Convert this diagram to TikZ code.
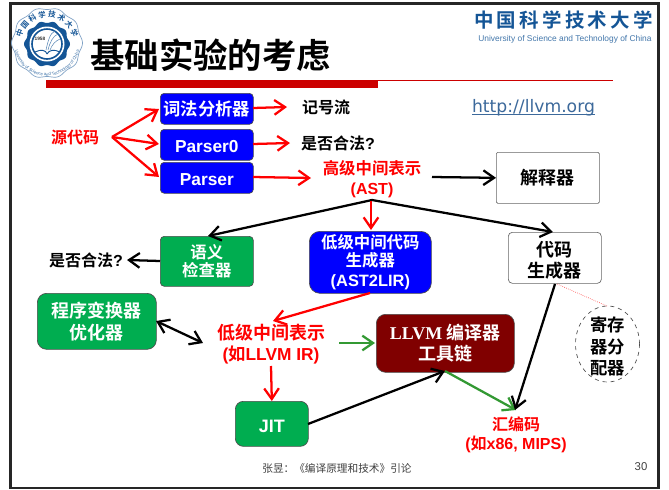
\documentclass[tikz,border=0pt]{standalone}
\usepackage{fontspec}
\setmainfont{Liberation Sans}[BoldFont={Liberation Sans Bold}]
\newfontfamily\cjk{Noto Sans CJK SC}[BoldFont={Noto Sans CJK SC Bold}]
\newfontfamily\lserif{Liberation Serif}
\newfontfamily\dv{DejaVu Sans}
\usetikzlibrary{arrows.meta,decorations.text}
\definecolor{bblue}{RGB}{0,0,255}
\definecolor{bgreen}{RGB}{0,173,80}
\definecolor{bdark}{RGB}{128,0,0}
\definecolor{ared}{RGB}{255,0,0}
\definecolor{agreen}{RGB}{51,153,51}
\definecolor{sealblue}{RGB}{20,85,150}
\definecolor{urlc}{RGB}{60,105,155}
\tikzset{
 barb/.tip={Straight Barb[length=8pt,width=11pt,line width=1.7pt]},
 tip/.style={-barb,line width=1.7pt},
 redar/.style={tip,draw=ared},
 blkar/.style={tip,draw=black},
 grnar/.style={tip,draw=agreen},
 basebox/.style={draw=black!70,line width=.5pt,text=white,font=\bfseries,align=center,inner sep=0pt,anchor=north west,rounded corners=3pt},
 redt/.style={text=ared,font=\bfseries,align=center,inner sep=0pt},
 blkt/.style={text=black,font=\bfseries,align=center,inner sep=0pt},
}
\newcommand{\zh}[2][12]{{\cjk\fontsize{#1}{#1}\selectfont\bfseries #2}}
\newcommand{\la}[2][12]{{\fontsize{#1}{#1}\selectfont\bfseries #2}}
\newcommand{\bx}[8][]{\node[basebox,fill=#2,minimum width=#5*0.75pt,minimum height=#6*0.75pt,#1] (#7) at (#3,#4) {#8};}
\begin{document}
\begin{tikzpicture}[x=0.75pt,y=-0.75pt]
\useasboundingbox (0,0) rectangle (669,490);
\fill[white] (0,0) rectangle (669,490);
\draw[line width=1.6pt,draw=black!85] (10.5,3.5) rectangle (658.5,488);
% seal
\begin{scope}
 \filldraw[fill=white,draw=sealblue!55,line width=.5pt] plot[domain=0:360,samples=145,smooth] ({47+(34.5+1*cos(10*\x))*cos(\x)},{43+(34.5+1*cos(10*\x))*sin(\x)}) -- cycle;
 \path[decorate,decoration={text along path,text align=center,
   text={|\cjk\fontsize{5.6}{6}\selectfont\bfseries\color{sealblue}|中 国 科 学 技 术 大 学}}]
   (47,43) ++(190:26) arc[start angle=190,end angle=350,radius=26];
 \path[decorate,decoration={text along path,text align=center,
   text={|\fontsize{3.2}{4}\selectfont\color{sealblue!85}|University of Science and Technology of China}}]
   (47,43) ++(165:33) arc[start angle=165,end angle=15,radius=33];
 \fill[sealblue] plot[domain=0:360,samples=145,smooth] ({47+(22+1*cos(10*\x))*cos(\x)},{44+(22+1*cos(10*\x))*sin(\x)}) -- cycle;
 \fill[white] (47,44) circle (17.5);
 \draw[sealblue,line width=1.2pt] (47,44) circle (15);
 \node[inner sep=0pt,text=black!80] (yr) at (40,39) {\la[3.6]{1958}};
 \draw[sealblue,line width=.7pt] (35,52) .. controls (41,49) and (46,50) .. (47,54);
 \draw[sealblue,line width=.7pt] (60,52) .. controls (54,49) and (49,50) .. (47,54);
 \draw[sealblue!70,line width=.4pt] (46,50) .. controls (48,41) and (50,33) .. (55,31);
 \draw[sealblue!70,line width=.4pt] (48,50) .. controls (50,42) and (53,36) .. (58,34);
 \draw[sealblue!70,line width=.4pt] (50,50) .. controls (52,45) and (55,41) .. (60,39);
\end{scope}
% title
\node[blkt,anchor=west] (title) at (90,55) {\zh[25.8]{基础实验的考虑}};
\fill[red!80!black] (46,80) rectangle (378,88);
\draw[red!80!black,line width=.75pt] (378,80.5) -- (613,80.5);
% logo
\node[inner sep=0pt,text=sealblue] (lg1) at (563.5,20) {\zh[14.6]{中\,国\,科\,学\,技\,术\,大\,学}};
\node[inner sep=0pt,text=sealblue!80] (lg2) at (565,39) {{\fontsize{6.3}{7}\selectfont University of Science and Technology of China}};
\node[inner sep=0pt,text=urlc] (url) at (533.5,107) {{\dv\fontsize{12.9}{13}\selectfont\underbar{http://llvm.org}}};
% boxes
\bx{bblue}{160}{93}{93}{31}{b1}{\zh[13]{词法分析器}}
\bx{bblue}{160}{129}{93}{31}{b2}{\rule{0pt}{11pt}\la[13]{Parser0}}
\bx{bblue}{160}{162}{93}{31}{b3}{\rule{0pt}{11.6pt}\la[13]{Parser}}
\bx[rounded corners=8pt]{bblue}{309}{231}{122}{62}{b4}{\zh[12.3]{低级中间代码}\\[2pt]\zh[12.3]{生成器}\\[3pt]\la[12.3]{(AST2LIR)}}
\bx{bgreen}{160}{236}{93}{50}{b5}{\zh[12.3]{语义}\\[1.5pt]\zh[12.3]{检查器}}
\bx[rounded corners=7pt]{bgreen}{37}{293}{119}{56}{b6}{\zh[13.5]{程序变换器}\\[3pt]\zh[13.5]{优化器}}
\bx[rounded corners=6pt]{bgreen}{235}{401}{73}{45}{b7}{\rule{0pt}{12.7pt}\la[13.5]{JIT}}
\bx[rounded corners=7pt]{bdark}{376}{314}{138}{58}{b8}{{\lserif\fontsize{13.5}{13.5}\selectfont\bfseries LLVM }\zh[13.5]{编译器}\\[2pt]\zh[13.5]{工具链}}
\node[basebox,fill=white,text=black,minimum width=103*0.75pt,minimum height=51*0.75pt,rounded corners=1pt,draw=black!60] (b9) at (496,152) {\zh[13.5]{解释器}};
\node[basebox,fill=white,text=black,minimum width=93*0.75pt,minimum height=51*0.75pt,rounded corners=3pt,draw=black!60] (b10) at (508,232) {\rule{0pt}{15pt}\zh[13.5]{代码}\\[2pt]\zh[13.5]{生成器}};
\draw[black!70,dashed,line width=.5pt] (607.5,344) ellipse[x radius=32,y radius=38];
\node[blkt] (b11) at (607.5,346) {\zh[13]{寄存}\\[3.5pt]\zh[13]{器分}\\[3.5pt]\zh[13]{配器}};
% labels
\node[redt] (src) at (75,137) {\zh{源代码}};
\node[blkt] (t1) at (326,107) {\zh{记号流}};
\node[blkt] (t2) at (338,143) {\zh[12]{是否合法}\la[12]{?}};
\node[redt] (hir) at (372,179) {\zh[12.3]{高级中间表示}\\[2.5pt]\la[12]{(AST)}};
\node[blkt] (t3) at (86,260) {\zh[12]{是否合法}\la[12]{?}};
\node[redt] (lir) at (271,344) {\zh[13.5]{低级中间表示}\\[2.5pt]\la[13]{(}\zh[13]{如}\la[13]{LLVM IR)}};
\node[redt] (asm) at (516,435) {\zh{汇编码}\\[2.5pt]\la[12]{(}\zh[12]{如}\la[12]{x86, MIPS)}};
\node[inner sep=0pt,text=black!75] (foot) at (337,468) {{\cjk\fontsize{8}{8}\selectfont 张昱：《编译原理和技术》引论}};
\node[inner sep=0pt,text=black!75] (pg) at (641,467) {{\fontsize{8.5}{8.5}\selectfont 30}};
% coordinates on text
\coordinate (srcR) at (112,137);
\coordinate (ts) at (372,200);
% connectors
\draw[redar] (srcR) -- (159,109);
\draw[redar] (srcR) -- (159,144);
\draw[redar] (srcR) -- (159,177);
\draw[redar] (253,108) -- (287,107);
\draw[redar] (253,144) -- (290,143);
\draw[redar] (253,177) -- (311,178);
\draw[blkar] (432,177) -- (b9.west);
\draw[blkar] (ts) -- (208,236);
\draw[blkar] (ts) -- (553,232);
\draw[redar] (371,201) -- (371,230);
\draw[blkar] (b5.west|-0,261) -- (127,260);
\draw[redar] (370,293) -- (273,321);
\draw[barb-barb,line width=1.7pt] (156,321) -- (203,343);
\draw[redar] (271,366) -- (b7.north);
\draw[blkar] (308,424) -- (445,371);
\draw[grnar] (339,343) -- (375,343);
\draw[grnar] (445,371) -- (516,410);
\draw[blkar] (555,284) -- (515,410);
\draw[red!70,densely dotted,line width=.5pt] (557,284) -- (607,306);
\end{tikzpicture}
\end{document}
